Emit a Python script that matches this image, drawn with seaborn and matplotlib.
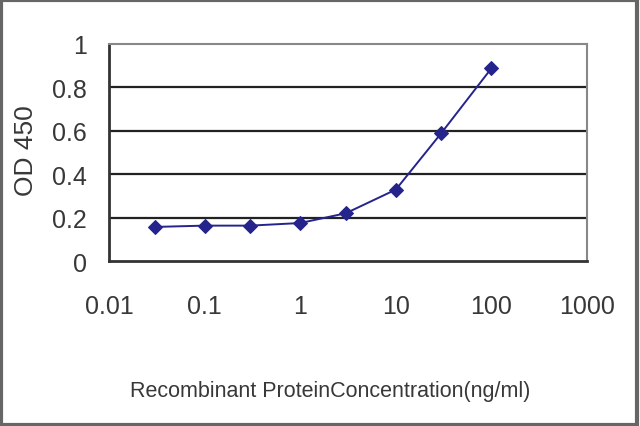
import matplotlib
matplotlib.use("Agg")
import matplotlib.pyplot as plt
import seaborn as sns
import pandas as pd
from matplotlib.patches import Rectangle

concentration = [0.03, 0.1, 0.3, 1, 3, 10, 30, 100]
od450 = [0.157, 0.163, 0.163, 0.175, 0.22, 0.329, 0.59, 0.888]
x_ticks = [0.01, 0.1, 1, 10, 100, 1000]
x_tick_labels = ["0.01", "0.1", "1", "10", "100", "1000"]
y_ticks = [0, 0.2, 0.4, 0.6, 0.8, 1]
y_tick_labels = ["0", "0.2", "0.4", "0.6", "0.8", "1"]

sns.set_style("white")
plt.rcParams['font.family'] = ['Liberation Sans', 'DejaVu Sans']

df = pd.DataFrame({"conc": concentration, "od": od450})

fig = plt.figure(figsize=(6.4, 4.27), dpi=100)
ax = fig.add_axes([109/640, 1-262/427, (587-109)/640, (262-45)/427])

sns.lineplot(data=df, x="conc", y="od", ax=ax, color="#24248c", linewidth=1.4,
             marker="D", markersize=7, markeredgecolor="#24248c")

ax.set_xscale("log")
ax.set_xlim(0.01, 1000)
ax.set_ylim(0, 1)
ax.set_xticks(x_ticks)
ax.set_xticklabels(x_tick_labels)
ax.minorticks_off()
ax.set_yticks(y_ticks)
ax.set_yticklabels(y_tick_labels)

for y in y_ticks[1:-1]:
    ax.axhline(y, color="#222222", linewidth=1.6, zorder=0)

for s in ["left", "bottom"]:
    ax.spines[s].set_color("#333333")
    ax.spines[s].set_linewidth(2.0)
for s in ["top", "right"]:
    ax.spines[s].set_color("#888888")
    ax.spines[s].set_linewidth(1.5)

ax.tick_params(axis="x", direction="in", length=6, width=1.5, color="#333333",
               labelsize=18, labelcolor="#383838", pad=24)
ax.tick_params(axis="y", length=0, labelsize=18, labelcolor="#383838", pad=16)

ax.set_xlabel("Recombinant ProteinConcentration(ng/ml)", fontsize=15.5, color="#383838")
ax.xaxis.set_label_coords((330-109)/478, (262-392)/217)
ax.xaxis.label.set_va("center")
ax.set_ylabel("OD 450", fontsize=19, color="#383838")
ax.yaxis.set_label_coords((26-109)/478, (262-151)/217)
ax.yaxis.label.set_va("center")

fig.patches.append(Rectangle((0.002, 0.003), 0.994, 0.994, transform=fig.transFigure,
                             fill=False, edgecolor="#666666", linewidth=3))

fig.savefig("out.png", dpi=100)
